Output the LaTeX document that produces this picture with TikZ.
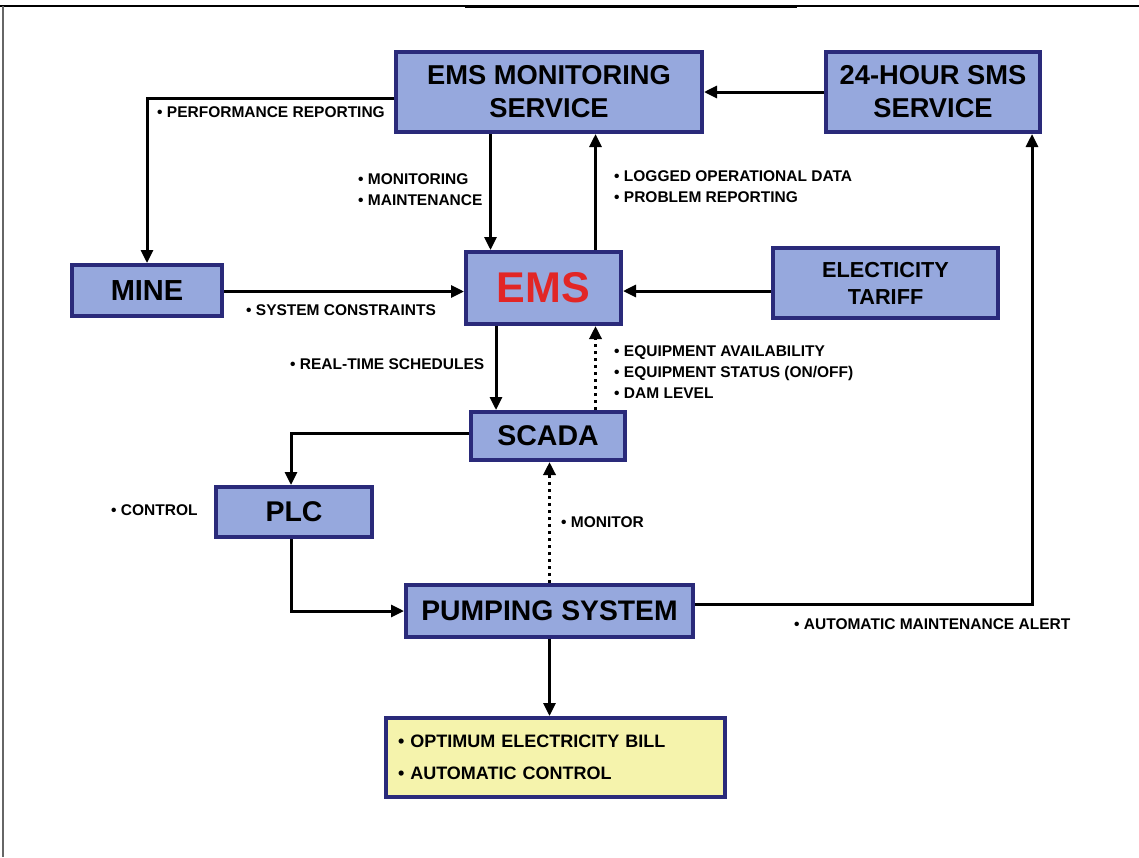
\documentclass[tikz,border=0pt]{standalone}
\usepackage{fontspec}
\setmainfont{Liberation Sans}
\usetikzlibrary{arrows.meta,calc}
\definecolor{boxfill}{RGB}{150,168,221}
\definecolor{boxline}{RGB}{42,42,122}
\definecolor{yelfill}{RGB}{245,243,172}
\definecolor{emsred}{RGB}{226,38,38}
\tikzset{
  box/.style={draw=boxline, line width=4pt, fill=boxfill, inner sep=0pt, align=center,
    font=\fontsize{27.3}{33}\selectfont\bfseries},
  conn/.style={line width=3pt, -{Triangle[length=13pt,width=12pt]}},
  dotconn/.style={line width=3.5pt, dash pattern=on 3.5pt off 3.5pt, -{Triangle[length=13pt,width=12pt]}},
  lbl/.style={inner sep=0pt, anchor=west, align=left, font=\fontsize{15.5}{21}\selectfont\bfseries}
}
\begin{document}
\begin{tikzpicture}[x=1pt,y=-1pt]
\useasboundingbox (0,0) rectangle (1139,857);
% frame
\draw[line width=1.5pt] (0,6) -- (1139,6);
\draw[line width=3pt] (465,6) -- (797,6);
\draw[line width=1.2pt, black!60] (3,6) -- (3,857);
% boxes
\node[box, minimum width=306pt, minimum height=80pt] (emsmon) at (549,92) {EMS MONITORING\\SERVICE};
\node[box, minimum width=214pt, minimum height=80pt] (sms) at (933,92) {24-HOUR SMS\\SERVICE};
\node[box, minimum width=150pt, minimum height=51pt, font=\fontsize{29}{33}\selectfont\bfseries] (mine) at (147,290.5) {MINE};
\node[box, minimum width=155pt, minimum height=72pt, text=emsred, font=\fontsize{43}{48}\selectfont\bfseries] (ems) at (543.5,288) {EMS};
\node[box, minimum width=225pt, minimum height=70pt, font=\fontsize{21.7}{27}\selectfont\bfseries] (tariff) at (885.5,283) {ELECTICITY\\TARIFF};
\node[box, minimum width=154pt, minimum height=48pt, font=\fontsize{28.5}{33}\selectfont\bfseries] (scada) at (548,436) {SCADA};
\node[box, minimum width=156pt, minimum height=50pt, font=\fontsize{28.5}{33}\selectfont\bfseries] (plc) at (294,512) {PLC};
\node[box, minimum width=287pt, minimum height=52pt, font=\fontsize{28.3}{33}\selectfont\bfseries] (pump) at (549.5,611) {PUMPING SYSTEM};
\node[box, fill=yelfill, minimum width=339pt, minimum height=79pt, font=\fontsize{18}{32}\selectfont\bfseries, align=left, text width=315pt] (out) at (555.5,757.5) {• OPTIMUM ELECTRICITY BILL\\• AUTOMATIC CONTROL};
% connectors
\draw[conn] ([yshift=-6pt]emsmon.west) -| (mine.north);
\draw[conn] (sms.west) -- (sms.west -| emsmon.east);
\draw[conn] ([xshift=-53pt]ems.north |- emsmon.south) -- ([xshift=-53pt]ems.north);
\draw[conn] ([xshift=52pt]ems.north) -- ([xshift=52pt]ems.north |- emsmon.south);
\draw[conn] ([yshift=-1pt]mine.east) -- ([yshift=-1pt]mine.east -| ems.west);
\draw[conn] ([yshift=-8pt]tariff.west) -- ([yshift=-8pt]tariff.west -| ems.east);
\draw[conn] ([xshift=-47.5pt]ems.south) -- ([xshift=-47.5pt]ems.south |- scada.north);
\draw[dotconn] ([xshift=52pt]ems.south |- scada.north) -- ([xshift=52pt]ems.south);
\draw[conn] ([yshift=3pt]scada.west) -| ([xshift=-3pt]plc.north);
\draw[conn] ([xshift=-3pt]plc.south) |- (pump.west);
\draw[dotconn] (pump.north) -- (pump.north |- scada.south);
\draw[conn] ([yshift=7pt]pump.east) -| ([xshift=99pt]sms.south);
\draw[conn] (pump.south) -- (pump.south |- out.north);
% labels
\node[lbl] (l1) at (157,112) {• PERFORMANCE REPORTING};
\node[lbl] (l2) at (358,190) {• MONITORING\\• MAINTENANCE};
\node[lbl] (l3) at (614,187) {• LOGGED OPERATIONAL DATA\\• PROBLEM REPORTING};
\node[lbl] (l4) at (246,310) {• SYSTEM CONSTRAINTS};
\node[lbl] (l5) at (290,364) {• REAL-TIME SCHEDULES};
\node[lbl] (l6) at (614,372) {• EQUIPMENT AVAILABILITY\\• EQUIPMENT STATUS (ON/OFF)\\• DAM LEVEL};
\node[lbl] (l7) at (111,510) {• CONTROL};
\node[lbl] (l8) at (561,522) {• MONITOR};
\node[lbl] (l9) at (794,624) {• AUTOMATIC MAINTENANCE ALERT};
\end{tikzpicture}
\end{document}
